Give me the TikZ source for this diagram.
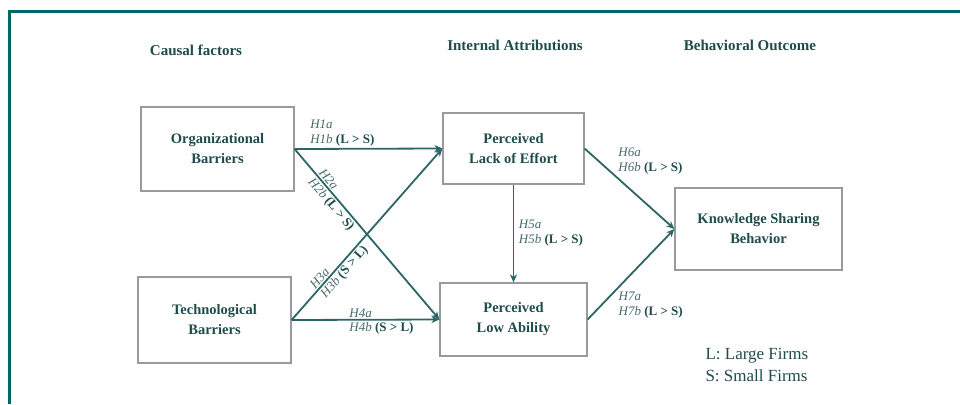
\documentclass[tikz,border=0pt]{standalone}
\usepackage{fontspec}
\setmainfont{Liberation Serif}
\usepackage{tikz}
\usetikzlibrary{arrows.meta}
\definecolor{frameteal}{HTML}{006666}
\definecolor{textteal}{HTML}{1E4B4B}
\definecolor{arrowteal}{HTML}{2A6666}
\definecolor{labelteal}{HTML}{466A6A}
\definecolor{boxgrey}{HTML}{9A9A9A}

\begin{document}
\begin{tikzpicture}[x=1pt, y=1pt]
\useasboundingbox (0,0) rectangle (960,-404);
\draw[frameteal, line width=3pt] (960,-11.5) -- (9.5,-11.5) -- (9.5,-404);
\begin{scope}[every node/.style={text=textteal, font=\fontsize{15}{18}\selectfont\bfseries}]
    \node (causal) at (196,-50) {Causal factors};
    \node (internal) at (515,-45) {Internal Attributions};
    \node (outcome) at (750,-45) {Behavioral Outcome};
\end{scope}
\begin{scope}[every node/.style={draw=boxgrey, line width=1.2pt, text=textteal, align=center, font=\fontsize{14.5}{20}\selectfont\bfseries}]
    \node[minimum width=153pt, minimum height=84pt] (org) at (217.5,-149) {Organizational\\Barriers};
    \node[minimum width=153pt, minimum height=86pt] (tech) at (214.5,-320) {Technological\\Barriers};
    \node[minimum width=141pt, minimum height=71pt] (lack) at (513.5,-148.5) {Perceived\\Lack of Effort};
    \node[minimum width=147pt, minimum height=73pt] (low) at (513.5,-319.5) {Perceived\\Low Ability};
    \node[minimum width=167pt, minimum height=82pt] (ksb) at (758.5,-229) {Knowledge Sharing\\Behavior};
\end{scope}
\begin{scope}[>={Stealth[length=8pt,width=7pt]}, every edge/.style={draw=arrowteal, line width=1.8pt}, every node/.style={text=labelteal, font=\fontsize{13}{15}\selectfont, align=left, inner sep=1.5pt}]
    \path [->] (org.east) edge node[pos=0.09, anchor=south west] {\textit{H1a}\\\textit{H1b} \textbf{\color{textteal}(L > S)}} (lack.west);
    \path [->] (org.east) edge node[sloped, pos=0.14, anchor=south west] {\textit{H2a}}
        node[sloped, pos=0.14, anchor=north west] {\textit{H2b} \textbf{\color{textteal}(L > S)}} (low.west);
    \path [->] (tech.east) edge node[sloped, pos=0.16, anchor=south west] {\textit{H3a}}
        node[sloped, pos=0.16, anchor=north west] {\textit{H3b} \textbf{\color{textteal}(S > L)}} (lack.west);
    \path [->] (tech.east) edge node[pos=0.375, anchor=south west] {\textit{H4a}}
        node[pos=0.375, anchor=north west] {\textit{H4b} \textbf{\color{textteal}(S > L)}} (low.west);
    \path [->] (lack.south) edge node[pos=0.5, anchor=west, xshift=3pt] {\textit{H5a}\\\textit{H5b} \textbf{\color{textteal}(L > S)}} (low.north);
    \path [->] (lack.east) edge node[pos=0.35, anchor=south west] {\textit{H6a}\\\textit{H6b} \textbf{\color{textteal}(L > S)}} (ksb.west);
    \path [->] (low.east) edge node[pos=0.33, anchor=north west] {\textit{H7a}\\\textit{H7b} \textbf{\color{textteal}(L > S)}} (ksb.west);
\end{scope}
\node[anchor=west, align=left, text=textteal, font=\fontsize{17}{22}\selectfont] (legend) at (702,-365) {L: Large Firms\\S: Small Firms};
\end{tikzpicture}
\end{document}
